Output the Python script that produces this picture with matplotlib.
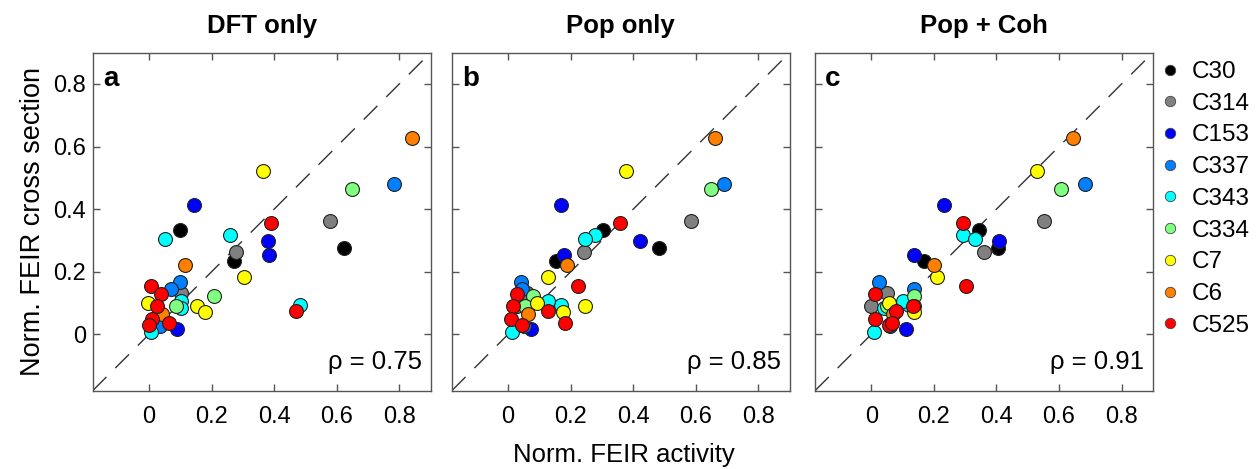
import matplotlib
matplotlib.use("Agg")
import matplotlib.pyplot as plt
from matplotlib.lines import Line2D

plt.rcParams['font.family'] = ['Liberation Sans', 'DejaVu Sans']

# ---- data ----
compounds = ["C30", "C314", "C153", "C337", "C343", "C334", "C7", "C6", "C525"]
colors = ["#000000", "#808080", "#0000ff", "#0080ff", "#00ffff",
          "#80ff80", "#ffff00", "#ff8000", "#ff0000"]

# Norm. FEIR cross section (shared y across panels)
y_C30 = [0.332, 0.276, 0.234]
y_C314 = [0.362, 0.264, 0.133, 0.090]
y_C153 = [0.412, 0.297, 0.253, 0.018]
y_C337 = [0.481, 0.168, 0.146, 0.027]
y_C343 = [0.316, 0.305, 0.094, 0.106, 0.085, 0.007]
y_C334 = [0.463, 0.124, 0.090]
y_C7 = [0.523, 0.183, 0.090, 0.071, 0.101]
y_C6 = [0.628, 0.222, 0.064]
y_C525 = [0.356, 0.154, 0.074, 0.128, 0.090, 0.048, 0.030, 0.037]

# Norm. FEIR activity, panel a (DFT only)
xa_C30 = [0.099, 0.622, 0.273]
xa_C314 = [0.580, 0.279, 0.101, 0.095]
xa_C153 = [0.144, 0.381, 0.385, 0.088]
xa_C337 = [0.782, 0.099, 0.069, 0.034]
xa_C343 = [0.259, 0.050, 0.484, 0.101, 0.101, 0.007]
xa_C334 = [0.649, 0.207, 0.085]
xa_C7 = [0.365, 0.303, 0.154, 0.178, -0.003]
xa_C6 = [0.841, 0.115, 0.043]
xa_C525 = [0.390, 0.007, 0.471, 0.037, 0.024, 0.011, 0.000, 0.064]

# panel b (Pop only)
xb_C30 = [0.303, 0.482, 0.154]
xb_C314 = [0.585, 0.243, 0.060, 0.030]
xb_C153 = [0.168, 0.423, 0.179, 0.072]
xb_C337 = [0.691, 0.040, 0.046, 0.050]
xb_C343 = [0.279, 0.247, 0.170, 0.128, 0.060, 0.011]
xb_C334 = [0.649, 0.080, 0.055]
xb_C7 = [0.378, 0.126, 0.247, 0.176, 0.091]
xb_C6 = [0.661, 0.189, 0.064]
xb_C525 = [0.359, 0.223, 0.128, 0.027, 0.016, 0.008, 0.044, 0.183]

# panel c (Pop + Coh)
xc_C30 = [0.345, 0.404, 0.167]
xc_C314 = [0.553, 0.361, 0.050, 0.000]
xc_C153 = [0.231, 0.409, 0.136, 0.111]
xc_C337 = [0.683, 0.026, 0.138, 0.060]
xc_C343 = [0.292, 0.330, 0.120, 0.100, 0.040, 0.010]
xc_C334 = [0.606, 0.138, 0.050]
xc_C7 = [0.531, 0.209, 0.138, 0.138, 0.058]
xc_C6 = [0.645, 0.202, 0.070]
xc_C525 = [0.292, 0.303, 0.080, 0.011, 0.133, 0.011, 0.058, 0.066]

ys = [y_C30, y_C314, y_C153, y_C337, y_C343, y_C334, y_C7, y_C6, y_C525]
xs_panels = [
    [xa_C30, xa_C314, xa_C153, xa_C337, xa_C343, xa_C334, xa_C7, xa_C6, xa_C525],
    [xb_C30, xb_C314, xb_C153, xb_C337, xb_C343, xb_C334, xb_C7, xb_C6, xb_C525],
    [xc_C30, xc_C314, xc_C153, xc_C337, xc_C343, xc_C334, xc_C7, xc_C6, xc_C525],
]
titles = ["DFT only", "Pop only", "Pop + Coh"]
letters = ["a", "b", "c"]
rhos = ["0.75", "0.85", "0.91"]
ticks = [0, 0.2, 0.4, 0.6, 0.8]
tick_labels = ["0", "0.2", "0.4", "0.6", "0.8"]
lim = (-0.18, 0.90)

# ---- figure ----
W, H = 1260, 469
fig = plt.figure(figsize=(W / 100, H / 100), dpi=100)
lefts = [92.7, 451.8, 815.0]
bottom_px, top_px = 390.7, 52.7
ax_w = 337.8
axes = []
for i, lp in enumerate(lefts):
    ax = fig.add_axes([lp / W, (H - bottom_px) / H, ax_w / W, (bottom_px - top_px) / H])
    axes.append(ax)
    ax.plot(lim, lim, linestyle=(0, (14, 9)), color="#333333", lw=1.0, zorder=1)
    for xv, yv, c in zip(xs_panels[i], ys, colors):
        ax.scatter(xv, yv, s=100, c=c, edgecolors="#222222", linewidths=0.8, zorder=3)
    ax.set_xlim(lim)
    ax.set_ylim(lim)
    ax.set_xticks(ticks)
    ax.set_xticklabels(tick_labels)
    ax.set_yticks(ticks)
    if i == 0:
        ax.set_yticklabels(tick_labels)
    else:
        ax.set_yticklabels([])
    ax.tick_params(direction="in", top=True, right=True, length=5, width=1,
                   color="#555555", labelsize=17)
    ax.tick_params(axis="x", pad=11)
    ax.tick_params(axis="y", pad=5)
    for sp in ax.spines.values():
        sp.set_color("#555555")
        sp.set_linewidth(1.0)
    ax.set_title(titles[i], fontsize=18.5, fontweight="bold", pad=14)
    ax.text(0.03, 0.96, letters[i], transform=ax.transAxes, fontsize=20,
            fontweight="bold", va="top", ha="left")
    ax.text(0.975, 0.05, "\u03c1 = " + rhos[i], transform=ax.transAxes,
            fontsize=18.5, va="bottom", ha="right")

axes[0].set_ylabel("Norm. FEIR cross section", fontsize=19.5, labelpad=5)
fig.text(624 / W, 1 - 455 / H, "Norm. FEIR activity", ha="center", va="center",
         fontsize=18.5)

handles = [Line2D([], [], marker="o", linestyle="none", markersize=7.5,
                  markerfacecolor=c, markeredgecolor="#444444", markeredgewidth=0.6)
           for c in colors]
fig.legend(handles, compounds, loc="upper left",
           bbox_to_anchor=(1160 / W, 1 - 61 / H), frameon=False,
           fontsize=17.5, handlelength=0.8, handletextpad=0.5,
           labelspacing=0.4, borderaxespad=0, borderpad=0)

fig.savefig("out.png", dpi=100)
